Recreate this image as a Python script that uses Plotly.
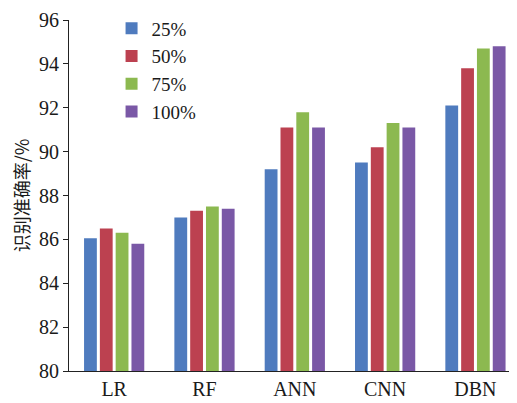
import plotly.graph_objects as go

categories = ["LR", "RF", "ANN", "CNN", "DBN"]
series_names = ["25%", "50%", "75%", "100%"]
v25 = [86.05, 87.0, 89.2, 89.5, 92.1]
v50 = [86.5, 87.3, 91.1, 90.2, 93.8]
v75 = [86.3, 87.5, 91.8, 91.3, 94.7]
v100 = [85.8, 87.4, 91.1, 91.1, 94.8]
colors = ["#4F7BBE", "#BC4150", "#8CB950", "#7A58A6"]
y_ticks = [80, 82, 84, 86, 88, 90, 92, 94, 96]

fig = go.Figure()
for name, vals, c in zip(series_names, [v25, v50, v75, v100], colors):
    fig.add_trace(go.Bar(x=categories, y=vals, name=name, marker=dict(color=c, line=dict(width=0))))

serif = "Liberation Serif, Times New Roman, serif"
# page body has an 8px default margin, so the figure is sized to fit the 517x403 window
fig.update_layout(
    width=509, height=395,
    margin=dict(l=61, r=0, t=12, b=32),
    paper_bgcolor="white", plot_bgcolor="white",
    barmode="group", bargap=0.3, bargroupgap=0.19,
    font=dict(family=serif, size=20, color="#1a1a1a"),
    legend=dict(x=0.095, y=1.03, xanchor="left", yanchor="top",
                font=dict(family=serif, size=19), bgcolor="rgba(0,0,0,0)",
                itemwidth=30, tracegroupgap=0),
    xaxis=dict(range=[-0.5, 4.46], showline=True, linecolor="#222", linewidth=1.2,
               ticks="", showgrid=False, tickfont=dict(size=20)),
    yaxis=dict(range=[80, 96], tickvals=y_ticks, showline=True, linecolor="#222", linewidth=1.2,
               ticks="outside", ticklen=5, tickcolor="#222", showgrid=False, zeroline=False,
               tickfont=dict(size=20),
               title=dict(text="识别准确率/%", font=dict(family="Noto Sans CJK SC", size=18), standoff=6)),
)
fig.write_html("out.html")
